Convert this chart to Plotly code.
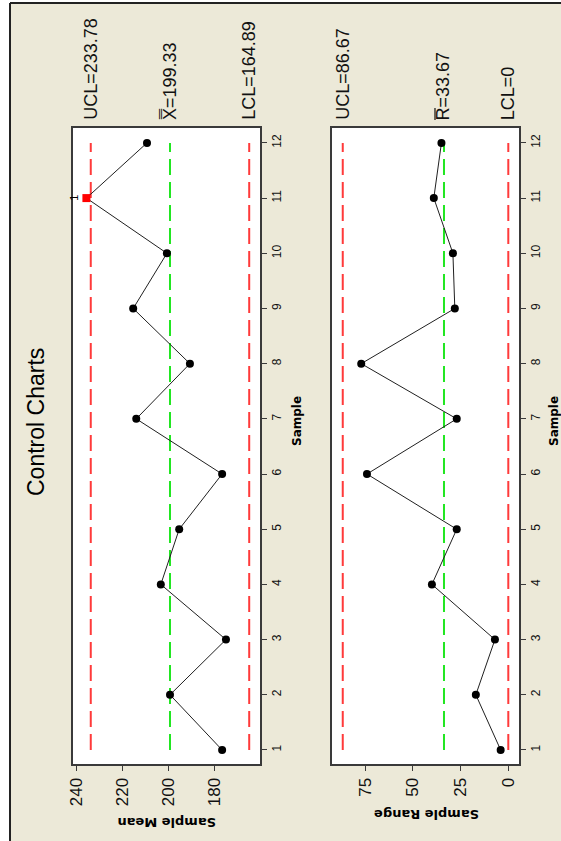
import plotly.graph_objects as go

# ---- data ----
samples = [1, 2, 3, 4, 5, 6, 7, 8, 9, 10, 11, 12]
sample_means = [176.67, 199.33, 175.0, 203.33, 195.33, 176.67, 214.0, 190.67, 215.33, 200.67, 235.67, 209.33]
sample_ranges = [4, 17, 7, 40, 27, 74, 27, 77, 28, 29, 39, 35]
xbar_limits = {"UCL": 233.78, "CL": 199.33, "LCL": 164.89}
r_limits = {"UCL": 86.67, "CL": 33.67, "LCL": 0}
mean_ticks = [180, 200, 220, 240]
range_ticks = [0, 25, 50, 75]
title_text = "Control Charts"

W, H = 561, 841
BG = "#ECE9D8"
RED = "#ff3a3a"
GREEN = "#22e622"
FRAME = "#3a3a3a"
FONT = "Liberation Sans Narrow, Arial Narrow, Liberation Sans, Arial, sans-serif"
BOLD = "DejaVu Sans, Verdana, sans-serif"

X1_DOM_PX = (73, 260)
X2_DOM_PX = (332, 519)
X1_RANGE = [241.5, 160.2]
X2_RANGE = [92.3, -5.6]


def px_x(p):
    return p / W


def px_y(p):
    return 1 - p / H


fig = go.Figure()


def add_limit_lines(xa, ya, limits):
    for key, val in limits.items():
        fig.add_trace(go.Scatter(
            x=[val, val], y=[samples[0], samples[-1]], mode="lines",
            line=dict(color=GREEN if key == "CL" else RED, width=2, dash="16px,7px"),
            xaxis=xa, yaxis=ya, hoverinfo="skip", showlegend=False))


add_limit_lines("x", "y", xbar_limits)
add_limit_lines("x2", "y2", r_limits)

mean_colors = ["red" if (m > xbar_limits["UCL"] or m < xbar_limits["LCL"]) else "black" for m in sample_means]
mean_symbols = ["square" if c == "red" else "circle" for c in mean_colors]

fig.add_trace(go.Scatter(
    x=sample_means, y=samples, mode="lines+markers",
    line=dict(color="#202020", width=1),
    marker=dict(color=mean_colors, symbol=mean_symbols, size=8),
    xaxis="x", yaxis="y", showlegend=False))

fig.add_trace(go.Scatter(
    x=sample_ranges, y=samples, mode="lines+markers",
    line=dict(color="#202020", width=1),
    marker=dict(color="black", size=8),
    xaxis="x2", yaxis="y2", showlegend=False))

ydom = [px_y(764), px_y(128)]
yrange = [0.746, 12.27]

common_val_axis = dict(
    showgrid=False, zeroline=False, showline=True, linecolor=FRAME, linewidth=2,
    mirror=True, ticks="outside", ticklen=5, tickwidth=1, tickcolor=FRAME,
    tickangle=-90, tickfont=dict(family=FONT, size=17, color="#111"),
    automargin=False, fixedrange=True,
)
common_sample_axis = dict(
    showgrid=False, zeroline=False, showline=True, linecolor=FRAME, linewidth=2,
    mirror=True, ticks="outside", ticklen=5, tickwidth=1, tickcolor=FRAME,
    tickangle=-90, tickfont=dict(family=FONT, size=12, color="#111"),
    tickvals=samples, range=yrange, side="right", domain=ydom,
    automargin=False, fixedrange=True,
)

fig.update_layout(
    width=W, height=H,
    margin=dict(l=0, r=0, t=0, b=0),
    paper_bgcolor=BG, plot_bgcolor="white",
    showlegend=False,
    xaxis=dict(common_val_axis, domain=[px_x(X1_DOM_PX[0]), px_x(X1_DOM_PX[1])], range=X1_RANGE,
               tickvals=mean_ticks, anchor="y"),
    yaxis=dict(common_sample_axis, anchor="x"),
    xaxis2=dict(common_val_axis, domain=[px_x(X2_DOM_PX[0]), px_x(X2_DOM_PX[1])], range=X2_RANGE,
                tickvals=range_ticks, anchor="y2"),
    yaxis2=dict(common_sample_axis, anchor="x2"),
)

# page frame: white outside strip + dark border
fig.add_shape(type="rect", xref="paper", yref="paper", x0=0, x1=px_x(10), y0=0, y1=1,
              fillcolor="white", line=dict(width=0), layer="above")
fig.add_shape(type="rect", xref="paper", yref="paper", x0=0, x1=1, y0=px_y(3), y1=1,
              fillcolor="white", line=dict(width=0), layer="above")
fig.add_shape(type="line", xref="paper", yref="paper", x0=px_x(10), x1=px_x(10), y0=0, y1=px_y(3),
              line=dict(color="#222", width=2), layer="above")
fig.add_shape(type="line", xref="paper", yref="paper", x0=px_x(10), x1=1, y0=px_y(3), y1=px_y(3),
              line=dict(color="#222", width=2), layer="above")

annotations = []
annotations.append(dict(text=title_text, xref="paper", yref="paper", x=px_x(36), y=px_y(422),
                        textangle=-90, showarrow=False, xanchor="center", yanchor="middle",
                        font=dict(family="Liberation Sans, Arial, sans-serif", size=23, color="black")))

xbar_lbl = {"UCL": "UCL=%.2f" % xbar_limits["UCL"], "CL": "X\u033F=%.2f" % xbar_limits["CL"],
            "LCL": "LCL=%.2f" % xbar_limits["LCL"]}
r_lbl = {"UCL": "UCL=%.2f" % r_limits["UCL"], "CL": "R=%.2f" % r_limits["CL"],
         "LCL": "LCL=%g" % r_limits["LCL"]}
for xref, limits, lbls in (("x", xbar_limits, xbar_lbl), ("x2", r_limits, r_lbl)):
    for key, val in limits.items():
        annotations.append(dict(text=lbls[key], xref=xref, yref="paper", x=val, y=px_y(122),
                                textangle=-90, showarrow=False, xanchor="center", yanchor="bottom",
                                font=dict(family=FONT, size=18, color="#111")))

# bar over the R of the R-bar label (drawn as a short stroke, text is rotated)
r_cl_px = X2_DOM_PX[0] + (X2_RANGE[0] - r_limits["CL"]) / (X2_RANGE[0] - X2_RANGE[1]) * (X2_DOM_PX[1] - X2_DOM_PX[0])
fig.add_shape(type="line", xref="paper", yref="paper",
              x0=px_x(r_cl_px - 9), x1=px_x(r_cl_px - 9), y0=px_y(120), y1=px_y(108),
              line=dict(color="#111", width=1.2), layer="above")

for s, m in zip(samples, sample_means):
    if m > xbar_limits["UCL"] or m < xbar_limits["LCL"]:
        annotations.append(dict(text="1", xref="x", yref="y", x=241.2, y=s, textangle=-90,
                                showarrow=False, xanchor="center", yanchor="middle",
                                font=dict(family=FONT, size=11, color="black")))

annotations.append(dict(text="<b>Sample Mean</b>", xref="paper", yref="paper", x=px_x(167), y=px_y(823),
                        textangle=180, showarrow=False, xanchor="center", yanchor="middle",
                        font=dict(family=BOLD, size=13, color="black")))
annotations.append(dict(text="<b>Sample Range</b>", xref="paper", yref="paper", x=px_x(427), y=px_y(815),
                        textangle=180, showarrow=False, xanchor="center", yanchor="middle",
                        font=dict(family=BOLD, size=13, color="black")))
for xp in (297, 554):
    annotations.append(dict(text="<b>Sample</b>", xref="paper", yref="paper", x=px_x(xp), y=px_y(421),
                            textangle=-90, showarrow=False, xanchor="center", yanchor="middle",
                            font=dict(family=BOLD, size=12, color="black")))

fig.update_layout(annotations=annotations)

fig.write_html("out.html", config={"displayModeBar": False},
               post_script="document.body.style.margin='0';")
